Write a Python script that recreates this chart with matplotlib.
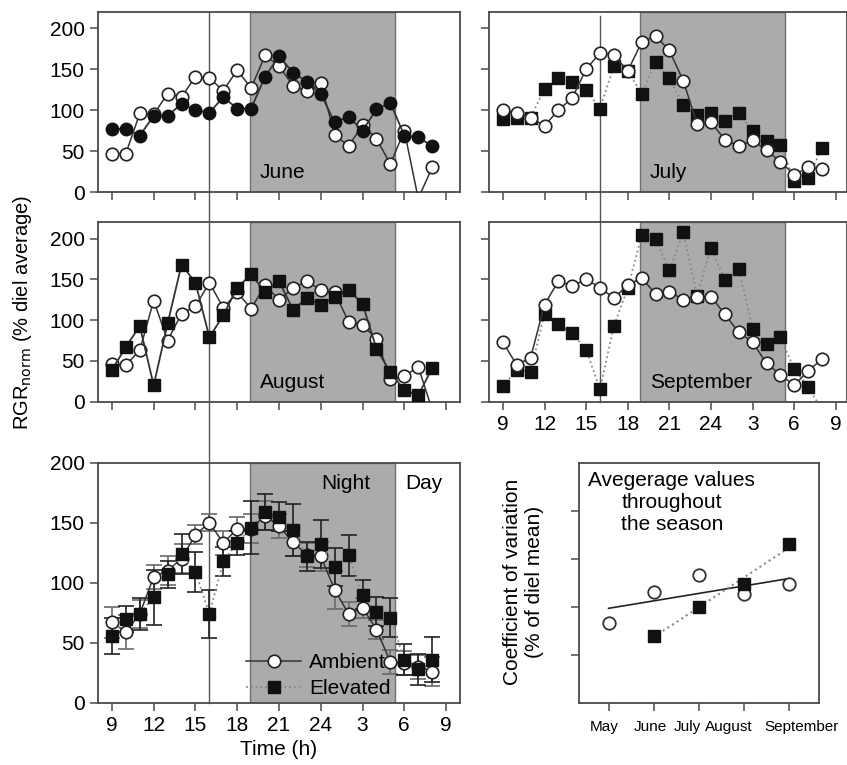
import matplotlib
matplotlib.use('Agg')
import matplotlib.pyplot as plt
import numpy as np

plt.rcParams['font.family'] = ['Liberation Sans', 'DejaVu Sans']
plt.rcParams['font.size'] = 15

# hours of the diel course (9 h .. 8 h next day)
hours = np.arange(9, 33)
tick_hours = [9, 12, 15, 18, 21, 24, 27, 30, 33]
tick_labels = ['9', '12', '15', '18', '21', '24', '3', '6', '9']
night = (18.9, 29.3)
mark_hour = 16

june_amb = [47, 47, 96, 95, 120, 116, 141, 139, 124, 149, 127, 167,
            154, 130, 123, 133, 70, 56, 82, 65, 34, 75, -8, 30]
june_elev = [77, 77, 69, 93, 93, 108, 100, 97, 116, 102, 102, 141,
             166, 146, 135, 120, 85, 92, 75, 101, 109, 69, 67, 56]
july_amb = [100, 96, 91, 81, 100, 115, 150, 170, 167, 148, 183, 191,
            173, 136, 83, 85, 64, 56, 63, 51, 37, 21, 30, 28]
july_elev = [89, 91, 91, 126, 139, 134, 125, 102, 154, 148, 120, 159,
             139, 106, 94, 96, 87, 97, 74, 62, 57, 14, 17, 54]
aug_amb = [46, 45, 63, 124, 75, 108, 117, 146, 115, 134, 114, 143,
           125, 139, 148, 137, 134, 98, 94, 77, 28, 31, 43, -10]
aug_elev = [39, 67, 93, 20, 96, 168, 146, 79, 106, 140, 156, 135,
            148, 113, 127, 119, 128, 137, 120, 65, 36, 14, 8, 41]
sep_amb = [73, 45, 54, 119, 148, 142, 150, 140, 127, 143, 152, 132,
           135, 125, 129, 129, 107, 85, 73, 47, 33, 20, 38, 52]
sep_elev = [19, 39, 37, 108, 95, 84, 64, 15, 93, 139, 204, 199,
            161, 208, 130, 189, 149, 163, 89, 71, 79, 40, 18, -10]

avg_amb = [67, 59, 74, 105, 110, 120, 140, 150, 133, 145, 145, 156,
           147, 134, 123, 122, 94, 74, 79, 61, 34, 33, 30, 26]
avg_amb_err = [13, 14, 12, 10, 12, 12, 8, 7, 10, 10, 12, 12,
               10, 12, 10, 12, 16, 10, 8, 8, 10, 10, 10, 12]
avg_elev = [56, 70, 74, 88, 107, 124, 109, 74, 118, 133, 146, 159,
            155, 144, 122, 132, 113, 123, 90, 76, 71, 36, 28, 36]
avg_elev_err = [15, 11, 13, 23, 11, 17, 17, 20, 12, 10, 22, 15,
                12, 22, 12, 20, 16, 17, 12, 12, 16, 13, 13, 19]

months = ['May', 'June', 'July', 'August', 'September']
cv_amb = [1.67, 2.31, 2.67, 2.26, 2.47]
cv_elev = [np.nan, 1.40, 2.00, 2.47, 3.31]

W, H = 847, 765
fig = plt.figure(figsize=(W / 100, H / 100), dpi=100)


def box(l, t, r, b):
    return [l / W, 1 - b / H, (r - l) / W, (b - t) / H]


def style(ax):
    ax.patch.set_visible(False)
    for s in ax.spines.values():
        s.set_color('#4a4a4a')
        s.set_linewidth(1.3)
    ax.tick_params(direction='out', length=6, width=1.1, color='#4a4a4a')


def day_panel(ax, amb, elev, emark, els, name, amb_top, ylabels, xlabels):
    ax.axvspan(*night, facecolor='#ababab', edgecolor='#707070', lw=1.0, zorder=0)
    za, ze = (4, 3) if amb_top else (3, 4)
    ax.plot(hours, amb, '-', color='#333333', lw=1.1, marker='o', ms=9,
            mfc='white', mec='#222222', mew=1.2, zorder=za)
    ecol = '#333333' if els == '-' else '#888888'
    ax.plot(hours, elev, ls=els, color=ecol, lw=1.3, marker=emark,
            ms=9 if emark == 'o' else 8.5, mfc='#111111', mec='#111111', zorder=ze)
    ax.text(19.6, 24, name, ha='left', va='center')
    ax.set_xlim(8, 34 if ax.get_position().x0 < 0.5 else 33.8)
    ax.set_ylim(0, 220)
    ax.set_xticks(tick_hours)
    ax.set_xticklabels(tick_labels)
    ax.set_yticks([0, 50, 100, 150, 200])
    ax.tick_params(labelleft=ylabels, labelbottom=xlabels)
    style(ax)


ax1 = fig.add_axes(box(98, 12, 460, 192))
ax2 = fig.add_axes(box(489, 12, 847, 192))
ax3 = fig.add_axes(box(98, 222.3, 460, 401.7))
ax4 = fig.add_axes(box(489, 222.3, 847, 401.7))
ax5 = fig.add_axes(box(98, 462.7, 460, 702.7))
ax6 = fig.add_axes(box(579.3, 462.7, 819.3, 702.7))

day_panel(ax1, june_amb, june_elev, 'o', '-', 'June', False, True, False)
day_panel(ax2, july_amb, july_elev, 's', ':', 'July', True, False, False)
day_panel(ax3, aug_amb, aug_elev, 's', '-', 'August', False, True, False)
day_panel(ax4, sep_amb, sep_elev, 's', ':', 'September', True, False, True)

# vertical marker line through the columns
p1, p5 = ax1.get_position(), ax5.get_position()
ax1.axvline(mark_hour, ymin=(p5.y0 - p1.y0) / p1.height, ymax=1,
            color='#555555', lw=1.0, clip_on=False, zorder=1)
p2, p4 = ax2.get_position(), ax4.get_position()
ax2.axvline(mark_hour, ymin=(p4.y0 - p2.y0) / p2.height, ymax=0.98,
            color='#555555', lw=1.0, clip_on=False, zorder=1)

# average diel course
ax5.axvspan(*night, facecolor='#ababab', edgecolor='#707070', lw=1.0, zorder=0)
ax5.errorbar(hours, avg_amb, yerr=avg_amb_err, fmt='none', ecolor='#6a6a6a',
             elinewidth=1.2, capsize=6, capthick=1.2, zorder=2)
ax5.errorbar(hours, avg_elev, yerr=avg_elev_err, fmt='none', ecolor='#222222',
             elinewidth=1.2, capsize=6, capthick=1.2, zorder=2)
la, = ax5.plot(hours, avg_amb, '-', color='#333333', lw=1.1, marker='o', ms=9,
               mfc='white', mec='#222222', mew=1.2, zorder=3)
le, = ax5.plot(hours, avg_elev, ls=':', color='#888888', lw=1.3, marker='s', ms=8.5,
               mfc='#111111', mec='#111111', zorder=4)
ax5.set_xlim(8, 34)
ax5.set_ylim(0, 200)
ax5.set_xticks(tick_hours)
ax5.set_xticklabels(tick_labels)
ax5.set_yticks([0, 50, 100, 150, 200])
ax5.set_xlabel('Time (h)', labelpad=4)
ax5.text(25.8, 183, 'Night', ha='center', va='center')
ax5.text(31.4, 183, 'Day', ha='center', va='center')
ax5.legend([la, le], ['Ambient', 'Elevated'], loc='lower left',
           bbox_to_anchor=(0.41, 0.02), frameon=False, borderpad=0,
           handlelength=2.6, handletextpad=0.4, labelspacing=0.32,
           borderaxespad=0)
style(ax5)

# coefficient of variation through the season
xm = np.arange(len(months))
ce = np.array(cv_elev)
ok = ~np.isnan(ce)
fa = np.polyfit(xm, cv_amb, 1)
fe = np.polyfit(xm[ok], ce[ok], 1)
ax6.plot(xm[[0, -1]], np.polyval(fa, xm[[0, -1]]), '-', color='#222222', lw=1.2)
ax6.plot(xm[ok][[0, -1]], np.polyval(fe, xm[ok][[0, -1]]), ':', color='#888888', lw=1.5)
ax6.plot(xm, cv_amb, 'o', ms=9, mfc='white', mec='#333333', mew=1.3, zorder=3)
ax6.plot(xm, cv_elev, 's', ms=8.5, mfc='#111111', mec='#111111', zorder=4)
ax6.set_xlim(-0.65, 4.68)
ax6.set_ylim(0, 5)
ax6.set_yticks([1, 2, 3, 4])
ax6.set_xticks(xm)
ax6.tick_params(labelleft=False, labelbottom=False)
# month labels sit slightly off their ticks in the original so they do not collide
label_shift = [-4, -3, -11, -15, 13]
for i, (m, dx) in enumerate(zip(months, label_shift)):
    ax6.annotate(m, xy=(xm[i], 0), xycoords=('data', 'axes fraction'),
                 xytext=(dx, -17), textcoords='offset pixels',
                 ha='center', va='top', fontsize=11)
ax6.text(0.385, 0.965, 'Avegerage values\nthroughout\nthe season',
         transform=ax6.transAxes, ha='center', va='top', multialignment='center')
style(ax6)

fig.text(523 / W, 1 - 582 / H, 'Coefficient of variation\n(% of diel mean)',
         rotation=90, ha='center', va='center', multialignment='center')
fig.text(22 / W, 1 - 312 / H, r'RGR$_{\mathrm{norm}}$ (% diel average)',
         rotation=90, ha='center', va='center', fontsize=14.5)

fig.savefig('out.png', dpi=100)
